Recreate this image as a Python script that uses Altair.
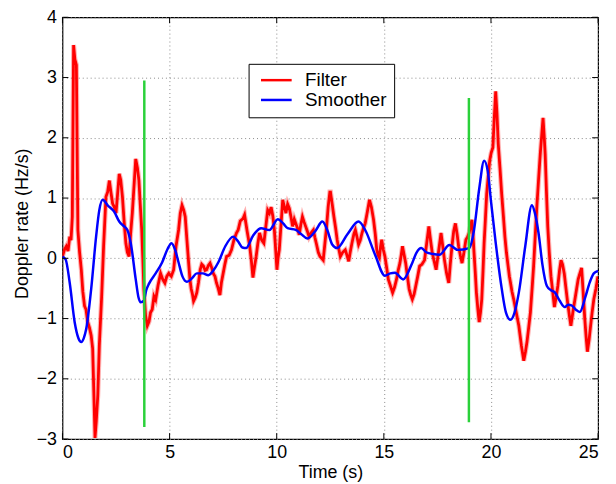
import altair as alt
import pandas as pd

# ---------------- data ----------------
filter_t = [0.00, 0.10, 0.18, 0.26, 0.34, 0.40, 0.46, 0.52, 0.58, 0.65, 0.72, 0.80, 0.88, 0.95,
            1.03, 1.10, 1.18, 1.26, 1.34, 1.41, 1.47, 1.52, 1.58, 1.65, 1.72, 1.83, 1.92, 2.03,
            2.11, 2.19, 2.26, 2.34, 2.42, 2.50, 2.58, 2.65, 2.72, 2.80, 2.88, 2.96, 3.03, 3.11,
            3.18, 3.26, 3.34, 3.42, 3.50, 3.57, 3.63, 3.70, 3.75, 3.80, 3.88, 3.96, 4.04, 4.11,
            4.19, 4.27, 4.35, 4.46, 4.58, 4.68, 4.78, 4.87, 4.96, 5.08, 5.19, 5.30, 5.42, 5.50,
            5.58, 5.66, 5.73, 5.81, 5.89, 5.95, 6.01, 6.07, 6.12, 6.20, 6.27, 6.35, 6.43, 6.50,
            6.58, 6.66, 6.73, 6.81, 6.89, 6.96, 7.04, 7.12, 7.19, 7.27, 7.35, 7.42, 7.50, 7.58,
            7.66, 7.78, 7.89, 8.00, 8.12, 8.20, 8.30, 8.43, 8.50, 8.62, 8.74, 8.82, 8.89, 8.96,
            9.04, 9.12, 9.20, 9.30, 9.40, 9.50, 9.58, 9.66, 9.74, 9.82, 9.89, 9.95, 10.01, 10.06,
            10.12, 10.20, 10.28, 10.36, 10.43, 10.51, 10.59, 10.66, 10.74, 10.82, 10.89, 10.97,
            11.05, 11.12, 11.20, 11.28, 11.35, 11.43, 11.51, 11.60, 11.71, 11.78, 11.86, 11.94,
            12.02, 12.10, 12.17, 12.25, 12.33, 12.40, 12.48, 12.51, 12.59, 12.67, 12.75, 12.82,
            12.90, 12.97, 13.08, 13.20, 13.28, 13.36, 13.43, 13.51, 13.60, 13.67, 13.75, 13.82,
            13.90, 13.98, 14.05, 14.13, 14.22, 14.33, 14.42, 14.52, 14.60, 14.67, 14.73, 14.79,
            14.85, 14.90, 14.97, 15.05, 15.13, 15.21, 15.30, 15.41, 15.50, 15.59, 15.67, 15.75,
            15.81, 15.87, 15.95, 16.02, 16.10, 16.18, 16.25, 16.33, 16.41, 16.49, 16.58, 16.67,
            16.78, 16.90, 17.00, 17.10, 17.18, 17.26, 17.35, 17.44, 17.55, 17.67, 17.75, 17.83,
            17.93, 18.03, 18.10, 18.18, 18.26, 18.34, 18.42, 18.49, 18.57, 18.65, 18.74, 18.83,
            18.90, 18.98, 19.05, 19.11, 19.16, 19.21, 19.27, 19.32, 19.39, 19.45, 19.51, 19.57,
            19.63, 19.68, 19.74, 19.80, 19.87, 19.94, 20.01, 20.09, 20.15, 20.22, 20.28, 20.34,
            20.42, 20.50, 20.58, 20.65, 20.72, 20.80, 20.86, 20.91, 20.98, 21.06, 21.18, 21.30,
            21.42, 21.53, 21.61, 21.68, 21.76, 21.84, 21.92, 21.99, 22.07, 22.15, 22.22, 22.30,
            22.37, 22.43, 22.48, 22.53, 22.59, 22.65, 22.72, 22.80, 22.88, 22.96, 23.04, 23.12,
            23.20, 23.27, 23.34, 23.42, 23.50, 23.58, 23.66, 23.73, 23.82, 23.92, 24.00, 24.07,
            24.15, 24.23, 24.30, 24.38, 24.44, 24.50, 24.58, 24.65, 24.72, 24.80, 24.90, 24.99]
filter_y = [0.03, 0.15, 0.20, 0.12, 0.36, 0.30, 0.69, 3.54, 3.30, 3.21, 0.47, 0.10, -0.19, -0.55,
            -0.79, -0.85, -1.06, -1.15, -1.28, -1.50, -2.30, -2.98, -2.70, -2.27, -1.45, -0.63, 0.20, 1.02,
            1.10, 1.29, 1.10, 0.91, 0.85, 0.75, 1.10, 1.40, 1.30, 1.02, 0.60, 0.25, 0.10, 0.03,
            0.40, 0.75, 1.20, 1.65, 1.50, 1.29, 0.90, 0.47, 0.00, -0.51, -0.95, -1.12, -1.05, -0.90,
            -0.85, -0.63, -0.69, -0.45, -0.25, -0.35, -0.41, -0.30, -0.25, -0.30, -0.19, 0.20, 0.47, 0.75,
            0.88, 0.80, 0.69, 0.30, -0.08, -0.35, -0.51, -0.60, -0.71, -0.65, -0.57, -0.40, -0.19, -0.10,
            -0.13, -0.20, -0.19, -0.12, -0.08, -0.15, -0.25, -0.30, -0.41, -0.50, -0.61, -0.40, -0.25, -0.10,
            0.03, 0.05, 0.14, 0.30, 0.42, 0.47, 0.62, 0.66, 0.72, 0.45, 0.20, -0.05, -0.32, -0.15,
            0.03, 0.25, 0.42, 0.30, 0.25, 0.55, 0.80, 0.75, 0.85, 0.70, 0.47, 0.15, -0.19, 0.00,
            0.14, 0.55, 0.97, 0.85, 0.75, 0.90, 0.83, 0.70, 0.53, 0.65, 0.58, 0.50,
            0.39, 0.55, 0.69, 0.60, 0.53, 0.45, 0.36, 0.42, 0.47, 0.35, 0.23, 0.10,
            0.03, 0.00, -0.03, 0.25, 0.53, 0.85, 1.10, 1.10, 0.90, 0.69, 0.50, 0.31,
            0.15, 0.03, 0.10, 0.14, 0.05, -0.05, 0.10, 0.25, 0.40, 0.47, 0.35, 0.23,
            0.30, 0.42, 0.50, 0.58, 0.75, 0.97, 0.85, 0.64, 0.40, 0.14, 0.05, 0.01,
            0.20, 0.31, 0.15, 0.03, -0.15, -0.35, -0.45, -0.57, -0.48, -0.35, -0.20, -0.08,
            0.05, 0.20, 0.05, -0.08, -0.30, -0.51, -0.60, -0.68, -0.60, -0.46, -0.30, -0.13,
            -0.10, -0.03, 0.25, 0.53, 0.30, 0.09, -0.05, -0.19, 0.10, 0.42, 0.20, -0.03,
            -0.25, -0.41, -0.10, 0.20, 0.45, 0.58, 0.40, 0.20, 0.05, -0.08, 0.10, 0.31,
            0.35, 0.42, 0.55, 0.64, 0.40, 0.09, -0.25, -0.57, -0.85, -1.06, -0.90, -0.68,
            -0.20, 0.25, 0.65, 1.07, 1.35, 1.62, 1.75, 1.84, 2.30, 2.77, 2.40, 1.90,
            1.50, 1.07, 0.70, 0.36, 0.10, -0.13, -0.30, -0.40, -0.55, -0.68, -0.90, -1.12,
            -1.45, -1.70, -1.55, -1.39, -1.15, -0.90, -0.50, -0.13, 0.40, 0.91, 1.30, 1.73,
            2.05, 2.33, 2.05, 1.73, 1.10, 0.53, 0.10, -0.30, -0.55, -0.81, -0.65, -0.46,
            -0.20, -0.03, -0.10, -0.25, -0.50, -0.74, -0.95, -1.12, -0.90, -0.68, -0.50, -0.35,
            -0.25, -0.16, -0.55, -1.01, -1.30, -1.55, -1.35, -1.12, -0.90, -0.68, -0.50, -0.30]

smooth_t = [0.00, 0.15, 0.34, 0.57, 0.75, 0.88, 1.00, 1.11, 1.34, 1.57, 1.72, 1.88, 2.11, 2.42,
            2.65, 2.88, 3.03, 3.19, 3.42, 3.55, 3.65, 3.80, 3.91, 4.04, 4.35, 4.65, 4.90, 5.09,
            5.25, 5.42, 5.60, 5.81, 6.05, 6.27, 6.55, 6.81, 7.05, 7.27, 7.60, 7.97, 8.20, 8.40,
            8.57, 8.90, 9.27, 9.66, 10.05, 10.30, 10.51, 10.89, 11.15, 11.43, 11.80, 12.13, 12.36,
            12.59, 12.82, 13.30, 13.82, 14.13, 14.60, 15.05, 15.30, 15.52, 15.90, 16.30, 16.52,
            16.75, 16.98, 17.30, 17.60, 18.06, 18.45, 18.98, 19.20, 19.45, 19.68, 19.85, 20.00,
            20.22, 20.50, 20.70, 20.91, 21.10, 21.30, 21.60, 21.91, 22.05, 22.22, 22.40, 22.61,
            22.80, 22.99, 23.20, 23.45, 23.60, 23.76, 23.95, 24.15, 24.40, 24.61, 24.80, 25.00]
smooth_y = [0.03, -0.02, -0.41, -1.06, -1.33, -1.39, -1.32, -1.17, -0.51, 0.36, 0.80, 0.97, 0.88, 0.77,
            0.61, 0.53, 0.47, 0.25, -0.35, -0.65, -0.73, -0.70, -0.53, -0.42, -0.25, -0.07, 0.15, 0.25,
            0.15, -0.07, -0.30, -0.39, -0.33, -0.25, -0.25, -0.28, -0.20, -0.07, 0.20, 0.36, 0.28, 0.18,
            0.17, 0.38, 0.50, 0.47, 0.65, 0.58, 0.50, 0.47, 0.40, 0.33, 0.45, 0.61, 0.47,
            0.23, 0.17, 0.40, 0.61, 0.47, 0.05, -0.29, -0.25, -0.24, -0.35, -0.10, 0.09,
            0.17, 0.10, 0.07, 0.06, 0.22, 0.14, 0.17, 0.45, 1.15, 1.62, 1.45, 0.95,
            0.26, -0.50, -0.90, -1.02, -0.90, -0.57, 0.20, 0.88, 0.75, 0.42, -0.10, -0.46,
            -0.53, -0.57, -0.70, -0.81, -0.77, -0.78, -0.85, -0.89, -0.65, -0.40, -0.25, -0.21]

marker_t = [3.82, 18.97]
marker_lo = [-2.80, -2.72]
marker_hi = [2.95, 2.66]

x_ticks = [0, 5, 10, 15, 20, 25]
y_ticks = [-3, -2, -1, 0, 1, 2, 3, 4]
series_names = ["Filter", "Smoother"]
series_colors = ["#ff0000", "#0000ff"]

# ---------------- chart ----------------
W, H = 541, 426
FONT = "Liberation Sans"
TICK = 6

df_f = pd.DataFrame({"t": filter_t, "v": filter_y, "series": series_names[0]})
df_s = pd.DataFrame({"t": smooth_t, "v": smooth_y, "series": series_names[1]})
df_m = pd.DataFrame({"t": marker_t, "lo": marker_lo, "hi": marker_hi})
df_xt = pd.DataFrame({"t": x_ticks})
df_yt = pd.DataFrame({"v": y_ticks})

xs = alt.Scale(domain=[0, 25], nice=False, zero=False)
ys = alt.Scale(domain=[-3, 4], nice=False, zero=False)
cs = alt.Scale(domain=series_names, range=series_colors)

x_axis = alt.Axis(values=x_ticks, format="d", grid=True, ticks=False, domain=False,
                  labelPadding=5, labelFontSize=18,
                  titleY=38.5, titleBaseline="alphabetic", titleFontSize=18,
                  gridDash=[1, 3], gridColor="#8a8a8a", gridWidth=1)
y_axis = alt.Axis(values=y_ticks, format="d", grid=True, ticks=False, domain=False,
                  labelPadding=6, labelFontSize=18,
                  titleX=-40, titleY=H / 2 - 5, titleAlign="center",
                  titleBaseline="middle", titleFontSize=18,
                  gridDash=[1, 3], gridColor="#8a8a8a", gridWidth=1)


def X(field):
    return alt.X(f"{field}:Q", scale=xs, axis=x_axis, title="Time (s)")


def Y(field):
    return alt.Y(f"{field}:Q", scale=ys, axis=y_axis, title="Doppler rate (Hz/s)")


legend = alt.Legend(orient="none", legendX=188, legendY=47, title=None,
                    strokeColor="black", fillColor="white", padding=7, cornerRadius=0,
                    symbolType="M-0.5,0H3.375", symbolSize=256, symbolStrokeWidth=2.5,
                    labelFontSize=19, labelOffset=31, rowPadding=-4, labelFont=FONT,
                    labelColor="black")

# soft halo under the filter trace (the original trace is a noisy, fuzzy band)
red_halo = alt.Chart(df_f).mark_line(strokeWidth=5, opacity=0.3, color="#ff0000",
                                     clip=True).encode(x=X("t"), y=Y("v"))
red = alt.Chart(df_f).mark_line(strokeWidth=2.8, clip=True).encode(
    x=X("t"), y=Y("v"),
    color=alt.Color("series:N", scale=cs, legend=legend))
blue = alt.Chart(df_s).mark_line(strokeWidth=2.5, interpolate="monotone", clip=True).encode(
    x=X("t"), y=Y("v"),
    color=alt.Color("series:N", scale=cs, legend=legend))
green = alt.Chart(df_m).mark_rule(color="#2ad13a", strokeWidth=2.5).encode(
    x=X("t"), y=Y("lo"), y2="hi")

xt_bottom = alt.Chart(df_xt).mark_rule(color="black", strokeWidth=1).encode(
    x=X("t"), y=alt.value(H), y2=alt.value(H - TICK))
xt_top = alt.Chart(df_xt).mark_rule(color="black", strokeWidth=1).encode(
    x=X("t"), y=alt.value(0), y2=alt.value(TICK))
yt_left = alt.Chart(df_yt).mark_rule(color="black", strokeWidth=1).encode(
    y=Y("v"), x=alt.value(0), x2=alt.value(TICK))
yt_right = alt.Chart(df_yt).mark_rule(color="black", strokeWidth=1).encode(
    y=Y("v"), x=alt.value(W), x2=alt.value(W - TICK))

chart = alt.layer(red_halo, red, blue, green, xt_bottom, xt_top, yt_left, yt_right).properties(
    width=W, height=H,
    autosize=alt.AutoSizeParams(type="none"),
    padding={"left": 55, "top": 7, "right": 10, "bottom": 43},
    background="white",
).configure_view(
    stroke="black", strokeWidth=1.2
).configure_axis(
    labelFont=FONT, titleFont=FONT,
    labelColor="black", titleColor="black", titleFontWeight="normal"
)

chart.save("out.html", embed_options={"renderer": "svg", "actions": False})
